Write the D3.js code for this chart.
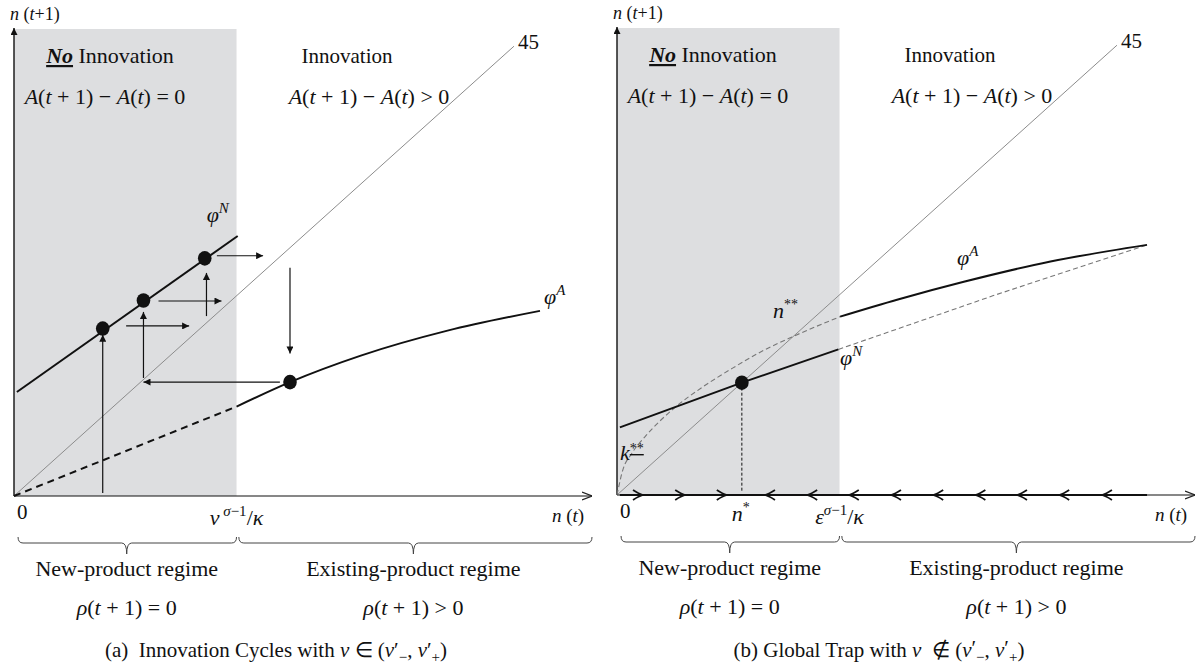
<!DOCTYPE html>
<html><head><meta charset="utf-8">
<script src="https://cdn.jsdelivr.net/npm/d3@7"></script>
<style>body{margin:0;background:#fff}svg{display:block}text{white-space:pre}</style>
</head><body>
<svg id="chart" width="1203" height="668"></svg>
<script>
// ---------- data (data units: n(t) on x, n(t+1) on y) ----------
const xDomain = [0, 100];
const yDomain = [0, 90];
const threshold = 38.5;                 // nu^(sigma-1)/kappa  or  eps^(sigma-1)/kappa
const line45 = [[0, 0], [86.5, 86.5]];

// panel (a)
const phiN_a = [[0.5, 20], [38.7, 50]];
const phiA_a_dashed = [[0, 0], [38.5, 17.2]];
const phiA_a = [[38.5, 17.2], [47.75, 21.9], [60, 27.0], [75, 31.8], [91, 35.6]];
const dots_a = [[15.35, 32.2], [22.4, 37.6], [33.0, 45.7], [47.75, 21.9]];
const arrows_a = [
  [[15.35, 0.6], [15.35, 31.0]],
  [[19.4, 32.7], [30.3, 32.7]],
  [[22.4, 22.7], [22.4, 35.4]],
  [[46.0, 21.9], [22.4, 21.9]],
  [[25.0, 37.5], [35.9, 37.5]],
  [[33.3, 34.6], [33.3, 42.9]],
  [[35.1, 46.2], [43.1, 46.2]],
  [[47.75, 43.9], [47.75, 27.4]]
];

// panel (b)
const phiN_b = [[0.5, 13.0], [21.6, 21.6], [38.3, 28.0]];
const phiN_b_ext = [[38.3, 28.0], [65, 38.3], [91.7, 48.1]];
const phiA_b = [[38.6, 34.3], [48.6, 37.6], [60, 41.0], [75, 44.9], [91.7, 48.1]];
const phiA_b_dashed = [[0, 0], [1, 4.8], [2.5, 7.9], [5, 11.4], [10, 16.8], [15, 20.9],
                       [20, 24.4], [25, 27.6], [30.5, 30.5], [38.6, 34.3]];
const nStar = 21.6;
const flowRight = [4.5, 11.8, 19.0];
const flowLeft = [25.6, 32.9, 40.1, 47.4, 54.7, 62.0, 69.2, 76.5, 83.9];
const flowEnd = 91.7;

// braces [start, tick, end]
const braces = [[0.7, 19.5, 38.5], [38.9, 69.1, 100]];

// ---------- drawing ----------
const svg = d3.select('#chart');
const FONT = "'Liberation Serif', 'Times New Roman', serif";
const x = d3.scaleLinear().domain(xDomain).range([0, 578]);
const y = d3.scaleLinear().domain(yDomain).range([496, 28]);
const line = d3.line().x(d => x(d[0])).y(d => y(d[1]));
const curve = d3.line().x(d => x(d[0])).y(d => y(d[1])).curve(d3.curveMonotoneX);

const defs = svg.append('defs');
defs.append('marker').attr('id', 'tri').attr('viewBox', '0 0 10 10')
  .attr('refX', 10).attr('refY', 5).attr('markerWidth', 8).attr('markerHeight', 7)
  .attr('markerUnits', 'userSpaceOnUse').attr('orient', 'auto')
  .append('path').attr('d', 'M0,0L10,5L0,10z').attr('fill', '#111');
defs.append('marker').attr('id', 'open').attr('viewBox', '0 0 10 10')
  .attr('refX', 10).attr('refY', 5).attr('markerWidth', 10).attr('markerHeight', 10)
  .attr('markerUnits', 'userSpaceOnUse').attr('orient', 'auto')
  .append('path').attr('d', 'M0,1L10,5L0,9').attr('fill', 'none').attr('stroke', '#222').attr('stroke-width', 1.2);

function mtext(sel, px, py, parts, opts = {}) {
  const t = sel.append('text').attr('x', px).attr('y', py)
    .attr('text-anchor', opts.anchor || 'start')
    .attr('font-size', opts.fs || 20).attr('font-family', FONT).attr('fill', '#111');
  let cur = 0;
  parts.forEach(p => {
    if (typeof p === 'string') p = {t: p};
    const s = t.append('tspan').text(p.t);
    const target = p.dy || 0;
    if (target !== cur) { s.attr('dy', target - cur); cur = target; }
    if (p.dx) s.attr('dx', p.dx);
    if (p.i) s.attr('font-style', 'italic');
    if (p.b) s.attr('font-weight', 'bold');
    if (p.u) s.attr('text-decoration', 'underline');
    if (p.fs) s.attr('font-size', p.fs);
  });
  return t;
}

function frame(g, thLabel) {
  // shaded no-innovation region
  g.append('rect').attr('x', x(0)).attr('y', y(yDomain[1]) + 1)
    .attr('width', x(threshold) - x(0)).attr('height', y(0) - y(yDomain[1]) - 1)
    .attr('fill', '#dddee0');
  // 45 degree line
  g.append('path').attr('d', line(line45)).attr('fill', 'none').attr('stroke', '#8c8c8c').attr('stroke-width', 1);
  // axes
  g.append('line').attr('x1', x(0)).attr('y1', y(0)).attr('x2', x(0)).attr('y2', y(yDomain[1]))
    .attr('stroke', '#111').attr('stroke-width', 1.4).attr('marker-end', 'url(#tri)');
  g.append('line').attr('x1', x(0)).attr('y1', y(0)).attr('x2', x(xDomain[1])).attr('y2', y(0))
    .attr('stroke', '#111').attr('stroke-width', 1.2).attr('marker-end', 'url(#open)');
  // texts
  mtext(g, x(0) - 4, 20, [{t: 'n', i: 1}, ' (', {t: 't', i: 1}, '+1)'], {fs: 18});
  mtext(g, 96, 63, [{t: 'No', i: 1, b: 1, u: 1}, ' Innovation'], {anchor: 'middle', fs: 22});
  mtext(g, 91, 104, [{t: 'A', i: 1}, '(', {t: 't', i: 1}, ' + 1) − ', {t: 'A', i: 1}, '(', {t: 't', i: 1}, ') = 0'], {anchor: 'middle', fs: 22});
  mtext(g, 333, 63, ['Innovation'], {anchor: 'middle', fs: 21});
  mtext(g, 355, 104, [{t: 'A', i: 1}, '(', {t: 't', i: 1}, ' + 1) − ', {t: 'A', i: 1}, '(', {t: 't', i: 1}, ') > 0'], {anchor: 'middle', fs: 22});
  mtext(g, x(line45[1][0]) + 4, 49, ['45'], {fs: 21});
  mtext(g, x(0) + 3, 519, ['0'], {fs: 21});
  mtext(g, x(threshold), 525, thLabel, {anchor: 'middle', fs: 22});
  mtext(g, x(xDomain[1]) - 40, 522, [{t: 'n', i: 1}, ' (', {t: 't', i: 1}, ')'], {fs: 19});
  // braces
  braces.forEach(b => {
    const a = x(b[0]), m = x(b[1]), e = x(b[2]), top = 537, ln = 543, tip = 554;
    g.append('path').attr('d',
      `M${a},${top}Q${a},${ln} ${a + 5},${ln}L${m - 5},${ln}Q${m},${ln} ${m},${tip}Q${m},${ln} ${m + 5},${ln}L${e - 5},${ln}Q${e},${ln} ${e},${top}`)
      .attr('fill', 'none').attr('stroke', '#444').attr('stroke-width', 1);
  });
  mtext(g, x(braces[0][1]), 576, ['New-product regime'], {anchor: 'middle', fs: 22});
  mtext(g, x(braces[1][1]), 576, ['Existing-product regime'], {anchor: 'middle', fs: 22});
  mtext(g, x(braces[0][1]), 615, [{t: 'ρ', i: 1}, '(', {t: 't', i: 1}, ' + 1) = 0'], {anchor: 'middle', fs: 22});
  mtext(g, x(braces[1][1]), 615, [{t: 'ρ', i: 1}, '(', {t: 't', i: 1}, ' + 1) > 0'], {anchor: 'middle', fs: 22});
}

// ---------- panel (a) ----------
const ga = svg.append('g').attr('transform', 'translate(14,0)');
frame(ga, [{t: 'ν', i: 1}, {t: ' σ', i: 1, dy: -9, fs: 15}, {t: '−1', dy: -9, fs: 15}, {t: '/', dy: 0}, {t: 'κ', i: 1}]);
ga.append('path').attr('d', line(phiA_a_dashed)).attr('fill', 'none').attr('stroke', '#111')
  .attr('stroke-width', 2).attr('stroke-dasharray', '7,5');
ga.append('path').attr('d', curve(phiA_a)).attr('fill', 'none').attr('stroke', '#111').attr('stroke-width', 2);
ga.append('path').attr('d', line(phiN_a)).attr('fill', 'none').attr('stroke', '#111').attr('stroke-width', 2);
arrows_a.forEach(a => {
  ga.append('line').attr('x1', x(a[0][0])).attr('y1', y(a[0][1])).attr('x2', x(a[1][0])).attr('y2', y(a[1][1]))
    .attr('stroke', '#111').attr('stroke-width', 1.2).attr('marker-end', 'url(#tri)');
});
ga.selectAll('ellipse.dot').data(dots_a).join('ellipse').attr('class', 'dot')
  .attr('cx', d => x(d[0])).attr('cy', d => y(d[1])).attr('rx', 6.8).attr('ry', 7.3).attr('fill', '#111');
mtext(ga, x(phiN_a[1][0]) - 31, 222, [{t: 'φ', i: 1}, {t: 'N', i: 1, dy: -9, fs: 15}], {fs: 22});
mtext(ga, x(phiA_a[4][0]) + 4, 304, [{t: 'φ', i: 1}, {t: 'A', i: 1, dy: -9, fs: 15}], {fs: 22});
mtext(ga, 262, 657, ['(a)  Innovation Cycles with ', {t: 'ν', i: 1}, ' ∈ (', {t: 'ν', i: 1}, '′', {t: '−', dy: 5, fs: 15}, {t: ', ', dy: 0}, {t: 'ν', i: 1}, '′', {t: '+', dy: 5, fs: 15}, {t: ')', dy: 0}], {anchor: 'middle', fs: 21});

// ---------- panel (b) ----------
const gb = svg.append('g').attr('transform', 'translate(617,-1)');
frame(gb, [{t: 'ε', i: 1}, {t: 'σ', i: 1, dy: -9, fs: 15}, {t: '−1', dy: -9, fs: 15}, {t: '/', dy: 0}, {t: 'κ', i: 1}]);
gb.append('path').attr('d', curve(phiA_b_dashed)).attr('fill', 'none').attr('stroke', '#777')
  .attr('stroke-width', 1.1).attr('stroke-dasharray', '5,3');
gb.append('path').attr('d', line(phiN_b_ext)).attr('fill', 'none').attr('stroke', '#777')
  .attr('stroke-width', 1.1).attr('stroke-dasharray', '5,3');
gb.append('path').attr('d', line(phiN_b)).attr('fill', 'none').attr('stroke', '#111').attr('stroke-width', 2);
gb.append('path').attr('d', curve(phiA_b)).attr('fill', 'none').attr('stroke', '#111').attr('stroke-width', 2);
gb.append('line').attr('x1', x(nStar)).attr('y1', y(nStar)).attr('x2', x(nStar)).attr('y2', y(0) - 3)
  .attr('stroke', '#111').attr('stroke-width', 1).attr('stroke-dasharray', '3,2');
gb.append('ellipse').datum([nStar, nStar]).attr('cx', d => x(d[0])).attr('cy', d => y(d[1]))
  .attr('rx', 6.8).attr('ry', 7.3).attr('fill', '#111');
// flow on the axis
gb.append('line').attr('x1', x(0.5)).attr('y1', y(0)).attr('x2', x(flowEnd)).attr('y2', y(0))
  .attr('stroke', '#111').attr('stroke-width', 2.2);
const yA = y(0);
flowRight.forEach(v => {
  const t = x(v);
  gb.append('path').attr('d', `M${t - 10},${yA - 5}Q${t - 4},${yA - 1} ${t},${yA}Q${t - 4},${yA + 1} ${t - 10},${yA + 5}`)
    .attr('fill', 'none').attr('stroke', '#111').attr('stroke-width', 1.8);
});
flowLeft.forEach(v => {
  const t = x(v);
  gb.append('path').attr('d', `M${t + 10},${yA - 5}Q${t + 4},${yA - 1} ${t},${yA}Q${t + 4},${yA + 1} ${t + 10},${yA + 5}`)
    .attr('fill', 'none').attr('stroke', '#111').attr('stroke-width', 1.8);
});
mtext(gb, x(nStar) - 10, 522, [{t: 'n', i: 1}, {t: '*', dy: -9, fs: 14}], {fs: 22});
mtext(gb, 156, 319, [{t: 'n', i: 1}, {t: '**', dy: -9, fs: 14}], {fs: 22});
mtext(gb, 223, 366, [{t: 'φ', i: 1}, {t: 'N', i: 1, dy: -9, fs: 15}], {fs: 22});
mtext(gb, 340, 266, [{t: 'φ', i: 1}, {t: 'A', i: 1, dy: -9, fs: 15}], {fs: 22});
mtext(gb, 3, 461, [{t: 'k', i: 1}, {t: '**', dy: -7, fs: 14, u: 1}], {fs: 22});
mtext(gb, 262, 658, ['(b) Global Trap with ', {t: 'ν', i: 1}, '  ∉ (', {t: 'ν', i: 1}, {t: '′', dy: -2}, {t: '−', dy: 5, fs: 15}, {t: ', ', dy: 0}, {t: 'ν', i: 1}, {t: '′', dy: -2}, {t: '+', dy: 5, fs: 15}, {t: ')', dy: 0}], {anchor: 'middle', fs: 21});
</script>
</body></html>
